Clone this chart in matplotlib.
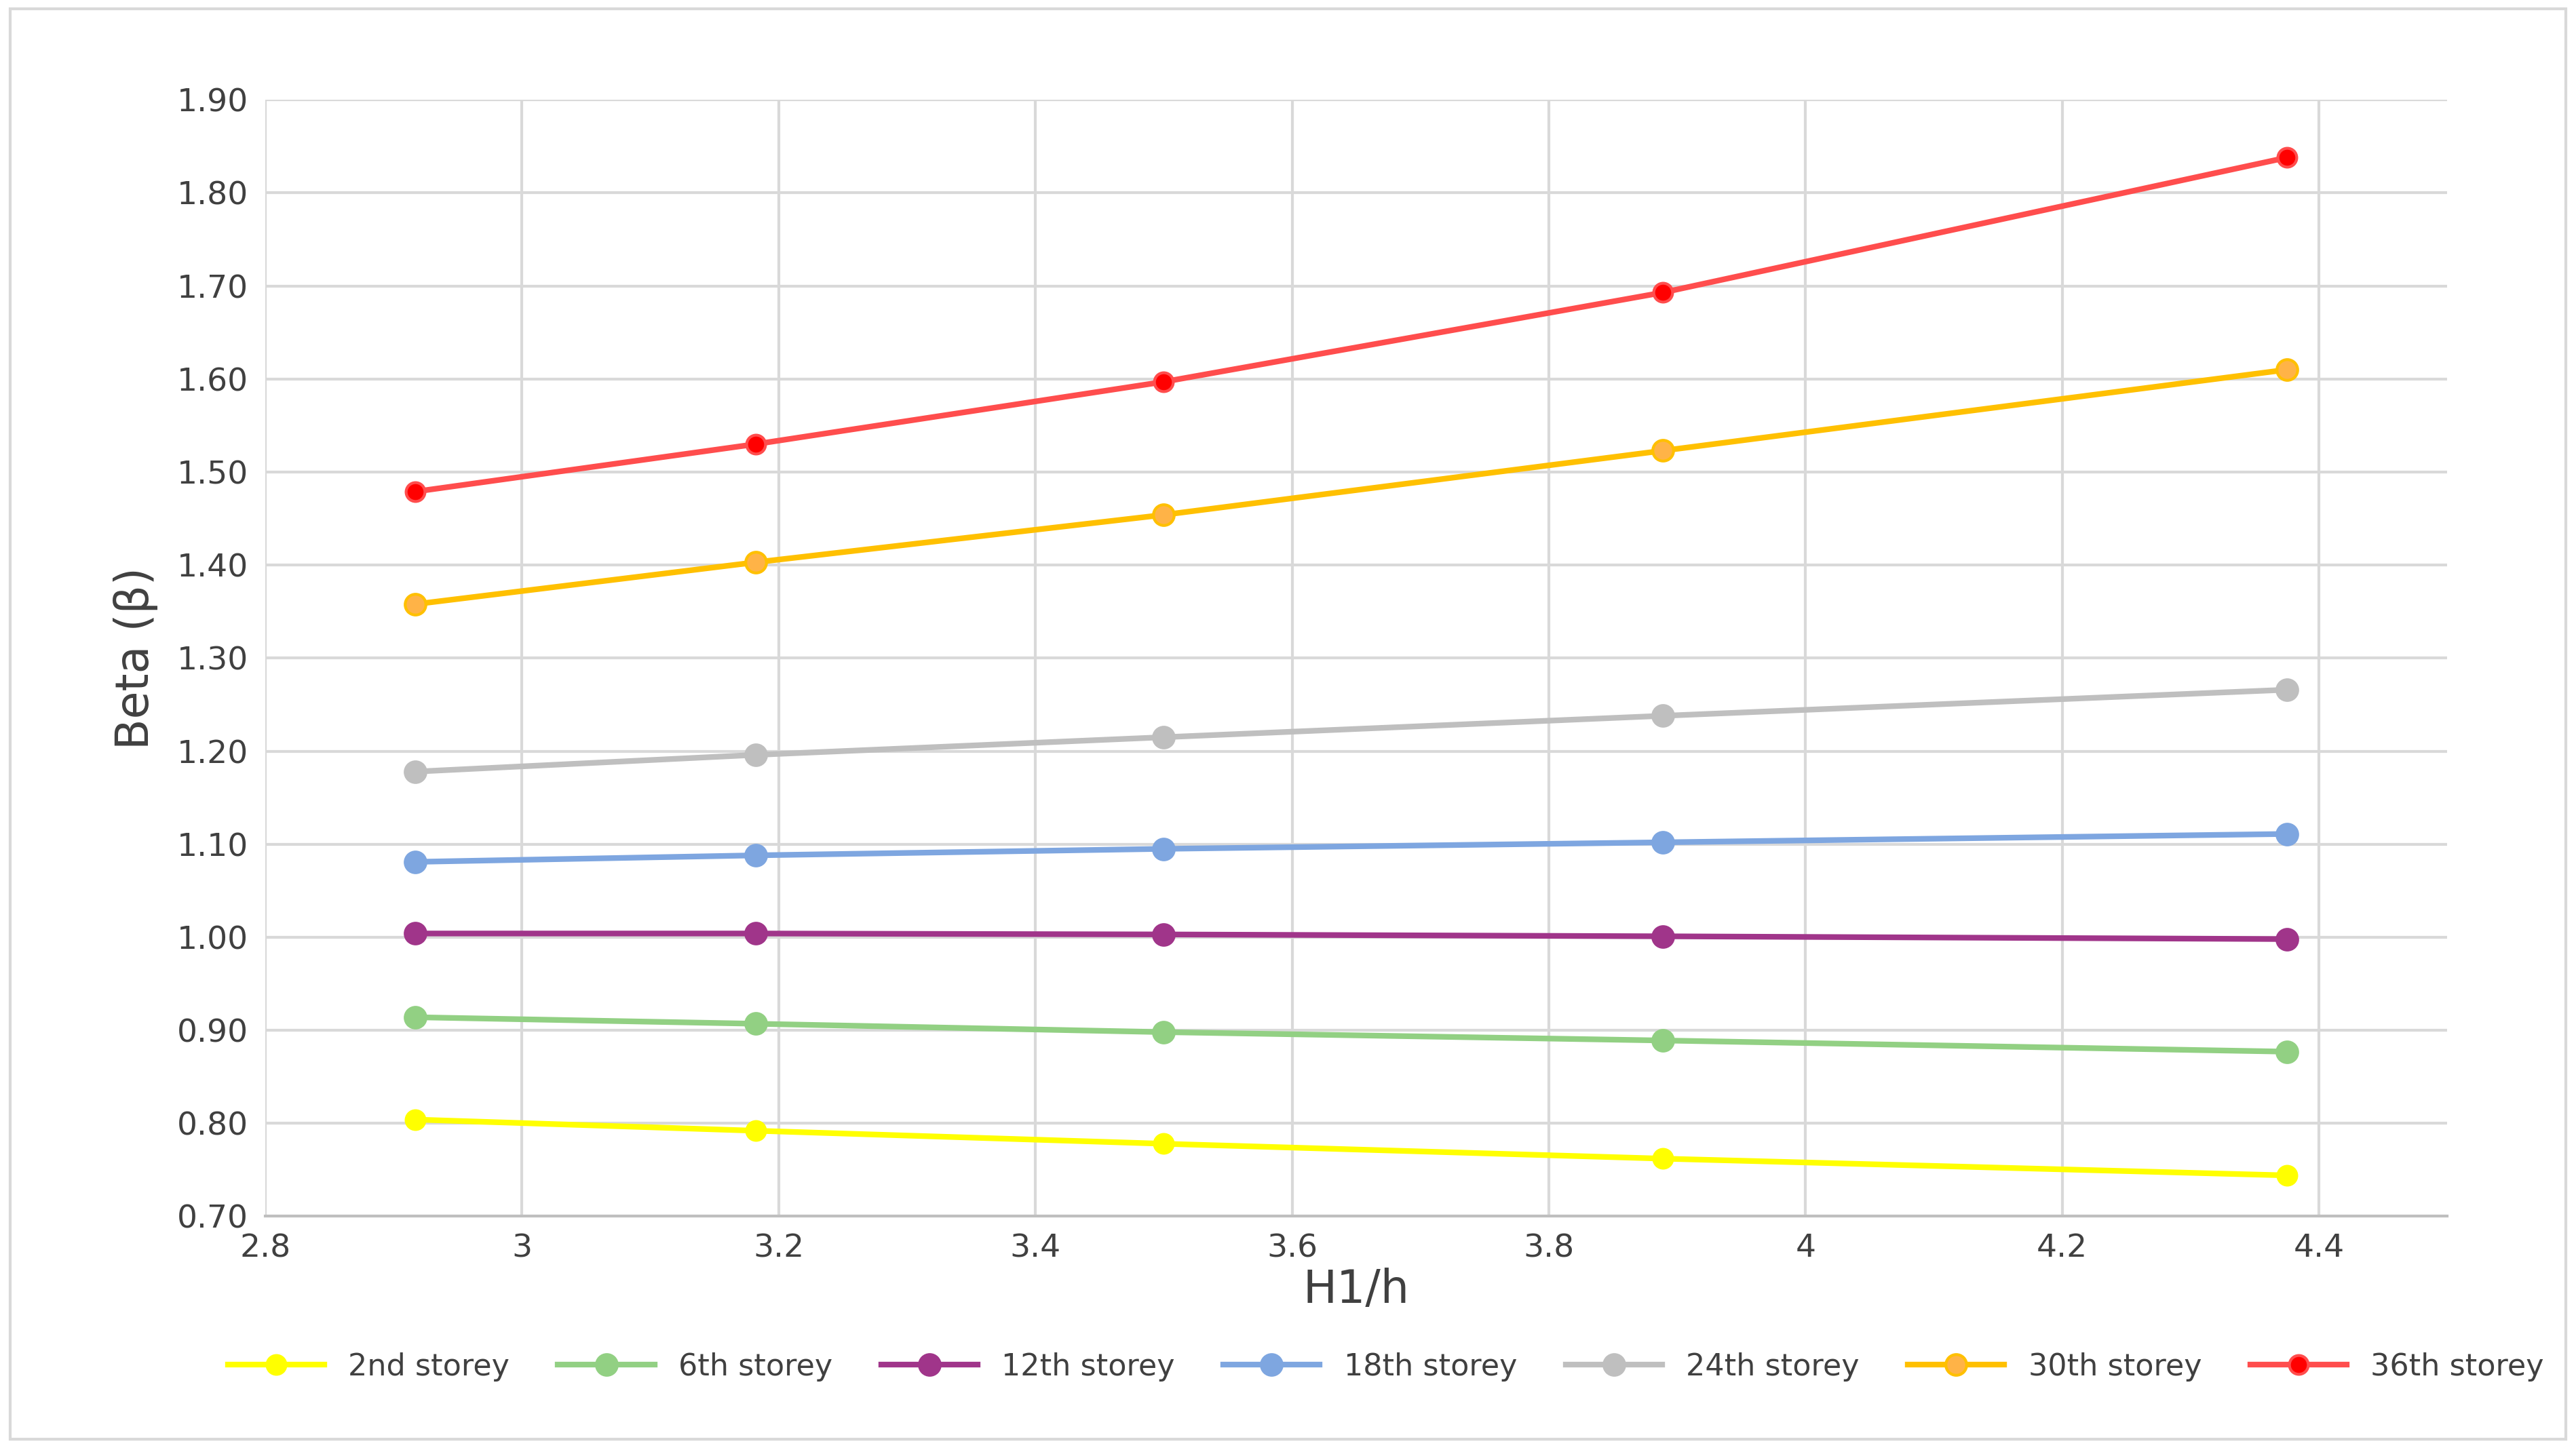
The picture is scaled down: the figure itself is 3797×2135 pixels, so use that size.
import matplotlib
matplotlib.use("Agg")
import matplotlib.pyplot as plt
from matplotlib.patches import Rectangle

x = [2.917, 3.182, 3.5, 3.889, 4.375]
s2 = [0.804, 0.792, 0.778, 0.762, 0.744]
s6 = [0.914, 0.907, 0.898, 0.889, 0.877]
s12 = [1.004, 1.004, 1.003, 1.001, 0.998]
s18 = [1.081, 1.088, 1.095, 1.102, 1.111]
s24 = [1.178, 1.196, 1.215, 1.238, 1.266]
s30 = [1.358, 1.403, 1.454, 1.523, 1.610]
s36 = [1.479, 1.530, 1.597, 1.693, 1.838]
labels = ["2nd storey", "6th storey", "12th storey", "18th storey", "24th storey", "30th storey", "36th storey"]
series = [s2, s6, s12, s18, s24, s30, s36]
line_colors = ["#FFFF00", "#92D083", "#A0358A", "#7EA6E0", "#BFBFBF", "#FFC000", "#FF4D4D"]
marker_colors = ["#FFFF00", "#92D083", "#A0358A", "#7EA6E0", "#BFBFBF", "#FFB347", "#FF0000"]
msizes = [20, 22, 22, 22, 22, 22, 20]

fig = plt.figure(figsize=(37.97, 21.35), dpi=100)
ax = fig.add_axes([0.103, 0.160, 0.847, 0.771])
for y, lab, lc, mc, ms in zip(series, labels, line_colors, marker_colors, msizes):
    ax.plot(x, y, color=lc, lw=6, marker="o", ms=ms, markerfacecolor=mc,
            markeredgecolor=lc, markeredgewidth=3, label=lab, zorder=3)

ax.set_xlim(2.8, 4.5)
ax.set_ylim(0.70, 1.90)
ax.set_xticks([2.8, 3.0, 3.2, 3.4, 3.6, 3.8, 4.0, 4.2, 4.4])
ax.set_xticklabels(["2.8", "3", "3.2", "3.4", "3.6", "3.8", "4", "4.2", "4.4"])
ax.set_yticks([0.7 + 0.1 * i for i in range(13)])
ax.set_yticklabels([f"{0.7 + 0.1 * i:.2f}" for i in range(13)])
ax.grid(True, color="#D9D9D9", lw=3)
ax.set_axisbelow(True)
for sp in ["top", "right", "left"]:
    ax.spines[sp].set_visible(False)
ax.spines["bottom"].set_color("#BFBFBF")
ax.spines["bottom"].set_linewidth(3)
ax.tick_params(length=0, labelsize=34, colors="#404040", pad=18)
ax.set_xlabel("H1/h", fontsize=48, color="#404040", labelpad=4)
ax.set_ylabel("Beta (β)", fontsize=48, color="#404040", labelpad=20)

fig.legend(loc="center", bbox_to_anchor=(0.538, 0.056), ncol=7, frameon=False,
           fontsize=32, labelcolor="#404040", handlelength=3.2, columnspacing=1.6)
fig.patches.append(Rectangle((0.004, 0.006), 0.992, 0.988, transform=fig.transFigure,
                             fill=False, edgecolor="#D9D9D9", lw=3))
fig.savefig("out.png", dpi=100, facecolor="white")
